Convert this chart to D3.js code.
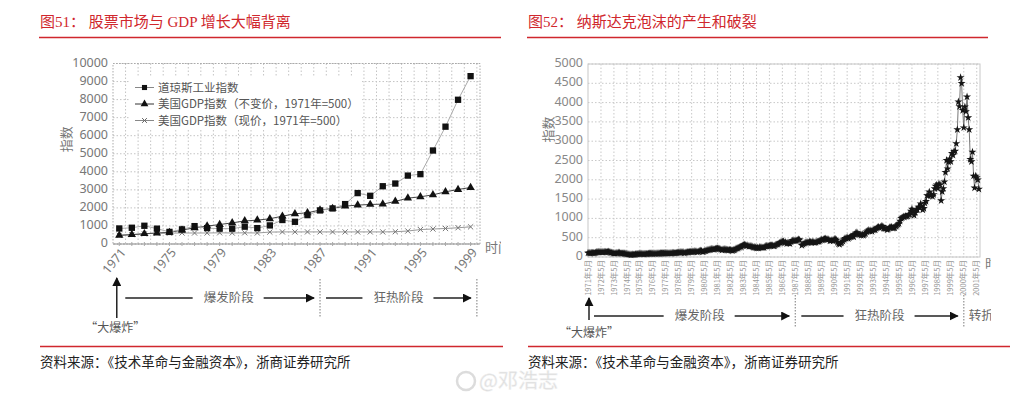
<!DOCTYPE html>
<html>
<head>
<meta charset="utf-8">
<script src="https://cdn.jsdelivr.net/npm/d3@7"></script>
<style>
  body { margin: 0; background: #fff; }
  svg text { font-family: "Noto Sans CJK SC", "Noto Sans", sans-serif; }
  .serif { font-family: "Liberation Serif", "Noto Sans CJK SC", serif !important; }
</style>
</head>
<body>
<div id="chart"></div>
<script>
// ---- fig 51 : Dow vs GDP ----
var dowYears     = [1971, 1972, 1973, 1974, 1975, 1976, 1977, 1978, 1979, 1980,
                    1981, 1982, 1983, 1984, 1985, 1986, 1987, 1988, 1989, 1990,
                    1991, 1992, 1993, 1994, 1995, 1996, 1997, 1998, 1999];
var dowIndex     = [860, 900, 1010, 850, 670, 810, 990, 880, 850, 850,
                    960, 880, 1030, 1330, 1230, 1600, 1860, 1970, 2210, 2820,
                    2670, 3200, 3350, 3790, 3870, 5180, 6500, 7990, 9300];
var gdpReal      = [480, 520, 570, 610, 640, 770, 900, 990, 1080, 1170,
                    1280, 1320, 1400, 1540, 1675, 1730, 1880, 1970, 2100, 2155,
                    2190, 2210, 2360, 2540, 2615, 2725, 2890, 3020, 3130];
var gdpNominal   = [480, 520, 560, 600, 600, 610, 610, 610, 620, 610,
                    620, 610, 660, 670, 670, 670, 670, 670, 670, 670,
                    670, 670, 680, 720, 800, 830, 860, 900, 950];
var dowTickYears = [1971, 1975, 1979, 1983, 1987, 1991, 1995, 1999];
var dowLegend    = ["道琼斯工业指数", "美国GDP指数（不变价，1971年=500）", "美国GDP指数（现价，1971年=500）"];
var dowPhases    = [{ label: "爆发阶段", from: 1971, to: 1987 }, { label: "狂热阶段", from: 1987, to: 1999.5 }];

// ---- fig 52 : Nasdaq monthly, from 1971-05 ----
var nasdaqStart = new Date(1971, 4, 1);
var nasdaq1971to1975 = [
  105, 106, 101, 106, 106, 102, 100, 114,
  121, 126, 128, 131, 131, 128, 127, 131, 128, 127, 132, 134,
  126, 116, 112, 103, 96, 94, 106, 101, 110, 110, 93, 92,
  94, 93, 89, 83, 76, 75, 68, 62, 56, 65, 61, 60,
  70, 73, 75, 79, 83, 87, 84, 80, 76, 79, 81, 78];
var nasdaq1976to1980 = [
  87, 91, 90, 89, 87, 91, 90, 89, 91, 89, 91, 98,
  96, 95, 95, 96, 96, 101, 101, 100, 101, 98, 103, 105,
  101, 101, 106, 112, 117, 115, 121, 127, 125, 104, 110, 118,
  125, 122, 131, 132, 130, 136, 138, 149, 145, 130, 137, 151,
  162, 158, 131, 139, 151, 157, 171, 182, 187, 192, 208, 202];
var nasdaq1981to1985 = [
  198, 198, 211, 216, 223, 215, 211, 196, 180, 195, 201, 196,
  188, 179, 175, 184, 178, 171, 167, 181, 188, 213, 226, 232,
  248, 260, 270, 293, 308, 318, 303, 292, 297, 275, 285, 279,
  268, 250, 251, 247, 232, 239, 229, 255, 250, 247, 242, 247,
  278, 284, 279, 281, 290, 296, 301, 298, 280, 292, 313, 325];
var nasdaq1986to1990 = [
  335, 359, 375, 383, 400, 405, 371, 382, 350, 361, 360, 349,
  392, 424, 430, 417, 416, 424, 435, 455, 444, null, 300, 325,
  345, 367, 374, 379, 371, 394, 387, 376, 388, 382, 372, 381,
  401, 399, 406, 427, 446, 435, 453, 469, 473, 456, 456, 454,
  416, 425, 435, 420, 458, 462, 438, 381, 344, 329, 359, 373];
var nasdaq1991to1995 = [
  414, 453, 482, 485, 506, 476, 502, 525, 527, 542, 523, 586,
  620, 633, 603, 578, 585, 563, 581, 563, 583, 605, 653, 677,
  696, 671, 690, 661, 700, 704, 704, 742, 763, 779, 754, 777,
  800, 793, 743, 733, 735, 706, 722, 765, 764, 777, 750, 752,
  755, 793, 817, 843, 865, 933, 1001, 1020, 1044, 1036, 1059, 1052];
var nasdaq1996to2001 = [
  1059, 1100, 1101, 1191, 1243, 1185, 1081, 1141, 1227, 1221, 1293, 1291,
  1380, 1309, 1222, 1261, 1400, 1442, 1594, 1587, 1686, 1594, 1601, 1570,
  1619, 1771, 1835, 1869, 1779, 1895, 1873, 1460, 1694, 1772, 1950, 2193,
  2506, 2288, 2461, 2543, 2471, 2686, 2638, 2739, 2746, 2940, 3300, 4020,
  3900, 4650, 4500, 3800, 3350, 3890, 3770, 4150, 3610, 3300, 2530, 2470,
  2720, 2100, 1790, 2100, 2060, 2000, 1760];
var nasdaqTickLabels = [
  "1971年5月", "1972年5月", "1973年5月", "1974年5月", "1975年5月", "1976年5月",
  "1977年5月", "1978年5月", "1979年5月", "1980年5月", "1981年5月", "1982年5月",
  "1983年5月", "1984年5月", "1985年5月", "1986年5月", "1987年5月", "1988年5月",
  "1989年5月", "1990年5月", "1991年5月", "1992年5月", "1993年5月", "1994年5月",
  "1995年5月", "1996年5月", "1997年5月", "1998年5月", "1999年5月", "2000年5月",
  "2001年5月"];
var nasdaqPhases = [{ label: "爆发阶段", from: 0, to: 16 }, { label: "狂热阶段", from: 16, to: 29 }];

var SOURCE = "资料来源：《技术革命与金融资本》，浙商证券研究所";
var RED = "#d0272d";

(function () {
    var W = 1024, H = 402;
    var svg = d3.select("#chart").append("svg")
        .attr("width", W).attr("height", H).style("display", "block");
    svg.append("rect").attr("width", W).attr("height", H).attr("fill", "#fff");

    var defs = svg.append("defs");
    defs.append("marker")
        .attr("id", "arrow").attr("viewBox", "0 0 10 10")
        .attr("refX", 9).attr("refY", 5)
        .attr("markerWidth", 9).attr("markerHeight", 9)
        .attr("markerUnits", "userSpaceOnUse").attr("orient", "auto")
        .append("path").attr("d", "M0,0L10,5L0,10Z").attr("fill", "#111");
    defs.append("clipPath").attr("id", "clip-left")
        .append("rect").attr("x", 0).attr("y", 0).attr("width", 501).attr("height", H);
    defs.append("clipPath").attr("id", "clip-right")
        .append("rect").attr("x", 515).attr("y", 0).attr("width", 476).attr("height", H);

    var plain = d3.format("d");

    /* headers / footers */
    function frame(x0, x1, title, footX, footX1) {
        svg.append("text").attr("class", "serif")
            .attr("x", x0 + 1).attr("y", 27)
            .attr("fill", RED).style("font-size", "15px")
            .text(title);
        svg.append("line").attr("x1", x0).attr("x2", x1).attr("y1", 37.5).attr("y2", 37.5)
            .attr("stroke", RED).attr("stroke-width", 1.3);
        svg.append("line").attr("x1", footX).attr("x2", footX1).attr("y1", 346.5).attr("y2", 346.5)
            .attr("stroke", RED).attr("stroke-width", 1.3);
        svg.append("text").attr("class", "serif")
            .attr("x", footX).attr("y", 367)
            .attr("fill", "#222").style("font-size", "13.5px")
            .text(SOURCE);
    }
    frame(39, 501, "图51：  股票市场与 GDP 增长大幅背离", 40, 503);
    frame(527, 988, "图52：  纳斯达克泡沫的产生和破裂", 528, 1010);

    // phase annotation row under an x axis
    function phases(g, list, xOf, rowY, shift) {
        list.forEach(function (p, i) {
            var a = xOf(p.from) + 6, b = xOf(p.to) - 6;
            var mid = (a + b) / 2 + (i === 0 ? shift : 0);
            var t = g.append("text").attr("x", mid).attr("y", rowY).attr("dy", "0.35em")
                .attr("text-anchor", "middle").attr("fill", "#666")
                .style("font-size", "12.5px").text(p.label);
            var tw = t.node().getComputedTextLength();
            g.append("line").attr("x1", a).attr("x2", mid - tw / 2 - 11)
                .attr("y1", rowY).attr("y2", rowY).attr("stroke", "#222").attr("stroke-width", 1.5);
            g.append("line").attr("x1", mid + tw / 2 + 10).attr("x2", b)
                .attr("y1", rowY).attr("y2", rowY).attr("stroke", "#222").attr("stroke-width", 1.5)
                .attr("marker-end", "url(#arrow)");
        });
    }

    /* ---------------- fig 51 ---------------- */
    (function () {
        var m = { left: 113, top: 63.5 };
        var iW = 367, iH = 180.5;
        var root = svg.append("g").attr("clip-path", "url(#clip-left)");
        var g = root.append("g").attr("transform", "translate(" + m.left + "," + m.top + ")");

        var x = d3.scaleLinear().domain([1970.5, 1999.75]).range([0, iW]);
        var y = d3.scaleLinear().domain([0, 10000]).range([iH, 0]);

        // grid
        g.selectAll(".hgrid").data(y.ticks(10)).enter().append("line")
            .attr("x1", 0).attr("x2", iW)
            .attr("y1", function (d) { return y(d); }).attr("y2", function (d) { return y(d); })
            .attr("stroke", "#c4c4c4").attr("stroke-dasharray", "1.5 2");
        g.selectAll(".vgrid").data(dowYears).enter().append("line")
            .attr("x1", function (d) { return x(d + 0.5); }).attr("x2", function (d) { return x(d + 0.5); })
            .attr("y1", 0).attr("y2", iH)
            .attr("stroke", "#c4c4c4").attr("stroke-dasharray", "1.5 2");
        g.append("rect").attr("width", iW).attr("height", iH)
            .attr("fill", "none").attr("stroke", "#aaa").attr("stroke-dasharray", "1.5 1.5");
        g.append("line").attr("x1", 0).attr("x2", iW).attr("y1", iH).attr("y2", iH)
            .attr("stroke", "#999");
        // minor ticks on the x axis
        g.selectAll(".mtick").data(dowYears).enter().append("line")
            .attr("x1", function (d) { return x(d); }).attr("x2", function (d) { return x(d); })
            .attr("y1", iH - 2).attr("y2", iH + 2)
            .attr("stroke", "#aaa");

        // y axis
        var ay = g.append("g").call(d3.axisLeft(y).tickValues(y.ticks(10)).tickFormat(plain)
            .tickSize(0).tickPadding(5));
        ay.select(".domain").remove();
        ay.selectAll("text").attr("dy", "0.22em")
            .style("font-family", "'Noto Sans', sans-serif").style("font-size", "12.5px").attr("fill", "#777");

        // x labels
        g.selectAll(".xlab").data(dowTickYears).enter().append("text")
            .attr("transform", function (d) { return "translate(" + (x(d) + 4) + "," + (iH + 6) + ") rotate(-50)"; })
            .attr("text-anchor", "end").attr("dy", "0.35em")
            .style("font-family", "'Noto Sans', sans-serif").style("font-size", "12.5px").attr("fill", "#777")
            .text(function (d) { return d; });

        g.append("text").attr("x", iW + 5).attr("y", iH + 3).attr("dy", "0.35em")
            .attr("fill", "#777").style("font-size", "13px").text("时间");
        g.append("text")
            .attr("transform", "translate(" + (-47) + "," + (iH * 0.42) + ") rotate(-90)")
            .attr("text-anchor", "middle").attr("dy", "0.35em")
            .attr("fill", "#777").style("font-size", "13px").text("指数");

        // series
        var cross = "M-2.6,-2.6L2.6,2.6M-2.6,2.6L2.6,-2.6";
        var series = [
            { values: gdpNominal, stroke: "#9a9a9a", sym: "x" },
            { values: gdpReal,    stroke: "#444",    sym: d3.symbolTriangle, size: 30 },
            { values: dowIndex,   stroke: "#aaa",    sym: d3.symbolSquare,   size: 40 }
        ];
        series.forEach(function (s) {
            var pts = dowYears.map(function (yr, i) { return { yr: yr, v: s.values[i] }; });
            g.append("path").datum(pts)
                .attr("fill", "none").attr("stroke", s.stroke).attr("stroke-width", 1)
                .attr("d", d3.line().x(function (d) { return x(d.yr); }).y(function (d) { return y(d.v); }));
            var mk = g.selectAll(null).data(pts).enter().append("path")
                .attr("transform", function (d) { return "translate(" + x(d.yr) + "," + y(d.v) + ")"; });
            if (s.sym === "x") {
                mk.attr("d", cross).attr("stroke", "#777").attr("stroke-width", 1).attr("fill", "none");
            } else {
                mk.attr("d", d3.symbol(s.sym, s.size)).attr("fill", "#111");
            }
        });

        // legend
        var lg = g.append("g").attr("transform", "translate(17,13)");
        lg.append("rect").attr("x", 0).attr("y", 0).attr("width", 232).attr("height", 52).attr("fill", "#fff");
        var legSyms = [d3.symbolSquare, d3.symbolTriangle, "x"];
        dowLegend.forEach(function (lab, i) {
            var row = lg.append("g").attr("transform", "translate(5," + (11 + i * 16.5) + ")");
            row.append("line").attr("x1", 0).attr("x2", 19).attr("stroke", i === 1 ? "#333" : "#888");
            if (legSyms[i] === "x") {
                row.append("path").attr("d", "M-2.4,-2.4L2.4,2.4M-2.4,2.4L2.4,-2.4")
                    .attr("transform", "translate(9.5,0)").attr("stroke", "#666").attr("fill", "none");
            } else {
                row.append("path").attr("d", d3.symbol(legSyms[i], 26))
                    .attr("transform", "translate(9.5,0)").attr("fill", "#111");
            }
            row.append("text").attr("x", 23).attr("dy", "0.35em")
                .attr("fill", "#555").style("font-size", "11.5px").text(lab);
        });

        // annotations
        var ax = function (v) { return m.left + x(v); };
        var ann = root.append("g");
        ann.append("line").attr("x1", ax(1971) - 2.5).attr("x2", ax(1971) - 2.5)
            .attr("y1", 318).attr("y2", 278).attr("stroke", "#222").attr("stroke-width", 1.5)
            .attr("marker-end", "url(#arrow)");
        ann.append("text").attr("x", ax(1971) - 4).attr("y", 328).attr("dy", "0.35em")
            .attr("text-anchor", "middle").attr("fill", "#555").style("font-size", "12px").text("“大爆炸”");
        [1987, 1999.5].forEach(function (v) {
            ann.append("line").attr("x1", ax(v)).attr("x2", ax(v)).attr("y1", 279).attr("y2", 317)
                .attr("stroke", "#999").attr("stroke-width", 1.3).attr("stroke-dasharray", "1.5 1.5");
        });
        phases(ann, dowPhases, ax, 298, 9);
    })();

    /* ---------------- fig 52 ---------------- */
    (function () {
        var m = { left: 588, top: 64 };
        var iW = 392, iH = 193;
        var root = svg.append("g").attr("clip-path", "url(#clip-right)");
        var g = root.append("g").attr("transform", "translate(" + m.left + "," + m.top + ")");

        var values = [].concat(nasdaq1971to1975, nasdaq1976to1980, nasdaq1981to1985,
                               nasdaq1986to1990, nasdaq1991to1995, nasdaq1996to2001);
        var data = values.map(function (v, i) {
            return { date: d3.timeMonth.offset(nasdaqStart, i), v: v };
        });
        var tickDates = nasdaqTickLabels.map(function (lab, i) {
            return d3.timeYear.offset(nasdaqStart, i);
        });

        var x = d3.scaleTime().domain([nasdaqStart, new Date(2001, 7, 1)]).range([0, iW]);
        var y = d3.scaleLinear().domain([0, 5000]).range([iH, 0]);

        g.selectAll(".hgrid").data(y.ticks(10)).enter().append("line")
            .attr("x1", 0).attr("x2", iW)
            .attr("y1", function (d) { return y(d); }).attr("y2", function (d) { return y(d); })
            .attr("stroke", "#c8c8c8").attr("stroke-dasharray", "1.5 2");
        g.selectAll(".vgrid").data(tickDates.slice(1)).enter().append("line")
            .attr("x1", function (d) { return x(d); }).attr("x2", function (d) { return x(d); })
            .attr("y1", 0).attr("y2", iH)
            .attr("stroke", "#c8c8c8").attr("stroke-dasharray", "1.5 2");
        g.append("rect").attr("width", iW).attr("height", iH)
            .attr("fill", "none").attr("stroke", "#c8c8c8");

        var ay = g.append("g").call(d3.axisLeft(y).tickValues(y.ticks(10)).tickFormat(plain)
            .tickSize(0).tickPadding(5));
        ay.select(".domain").remove();
        ay.selectAll("text").attr("dy", "0.2em")
            .style("font-family", "'Noto Sans', sans-serif").style("font-size", "12.5px").attr("fill", "#888");

        g.selectAll(".xlab").data(tickDates).enter().append("text")
            .attr("transform", function (d) { return "translate(" + x(d) + "," + (iH + 3) + ") rotate(-90)"; })
            .attr("text-anchor", "end").attr("dy", "0.35em")
            .attr("fill", "#999").style("font-size", "7.5px")
            .text(function (d, i) { return nasdaqTickLabels[i]; });

        g.append("text").attr("x", iW + 5).attr("y", iH + 6).attr("dy", "0.35em")
            .attr("fill", "#777").style("font-size", "13px").text("时间");
        g.append("text")
            .attr("transform", "translate(" + (-40) + "," + (iH * 0.34) + ") rotate(-90)")
            .attr("text-anchor", "middle").attr("dy", "0.35em")
            .attr("fill", "#777").style("font-size", "13px").text("指数");

        var line = d3.line()
            .defined(function (d) { return d.v !== null; })
            .x(function (d) { return x(d.date); })
            .y(function (d) { return y(d.v); });
        g.append("path").datum(data)
            .attr("fill", "none").attr("stroke", "#777").attr("stroke-width", 1)
            .attr("d", line);
        g.selectAll(".pt").data(data.filter(function (d) { return d.v !== null; }))
            .enter().append("path")
            .attr("d", d3.symbol(d3.symbolStar, 20))
            .attr("transform", function (d) { return "translate(" + x(d.date) + "," + y(d.v) + ")"; })
            .attr("fill", "#151515");

        // annotations
        var ax = function (i) { return m.left + x(tickDates[i]); };
        var ann = root.append("g");
        ann.append("line").attr("x1", ax(0) + 1).attr("x2", ax(0) + 1)
            .attr("y1", 320).attr("y2", 298).attr("stroke", "#222").attr("stroke-width", 1.5)
            .attr("marker-end", "url(#arrow)");
        ann.append("text").attr("x", ax(0) + 1).attr("y", 333).attr("dy", "0.35em")
            .attr("text-anchor", "middle").attr("fill", "#555").style("font-size", "12px").text("“大爆炸”");
        [16, 29].forEach(function (i) {
            ann.append("line").attr("x1", ax(i)).attr("x2", ax(i)).attr("y1", 295).attr("y2", 327)
                .attr("stroke", "#999").attr("stroke-width", 1.3).attr("stroke-dasharray", "1.5 1.5");
        });
        phases(ann, nasdaqPhases, ax, 316, 8);
        ann.append("text").attr("x", ax(29) + 5).attr("y", 316).attr("dy", "0.35em")
            .attr("fill", "#666").style("font-size", "12.5px").text("转折");
    })();

    // watermark
    var wm = svg.append("g").attr("opacity", 0.8);
    wm.append("circle").attr("cx", 466).attr("cy", 381).attr("r", 9)
        .attr("fill", "none").attr("stroke", "#d4d4d4").attr("stroke-width", 2.5);
    wm.append("text").attr("x", 479).attr("y", 381).attr("dy", "0.35em")
        .attr("fill", "#d4d4d4").attr("stroke", "#eee").attr("stroke-width", 0.5)
        .style("font-size", "20px").text("@邓浩志");
})();
</script>
</body>
</html>
